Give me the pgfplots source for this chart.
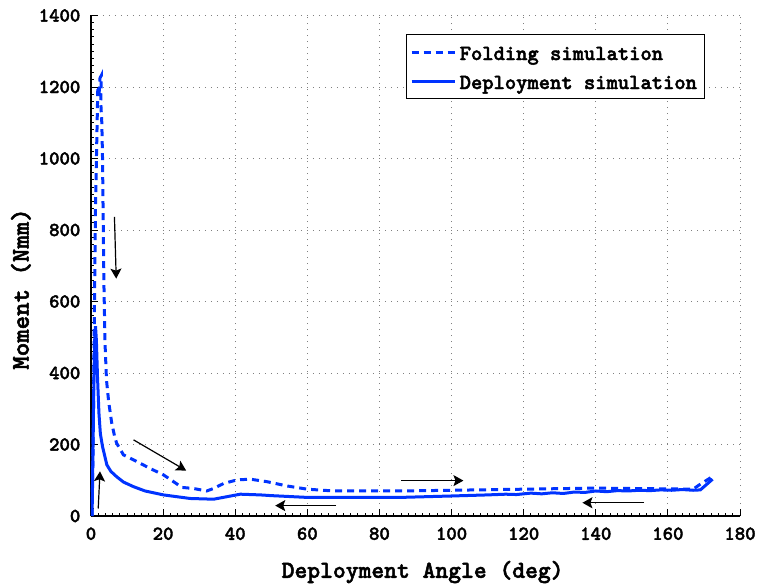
\documentclass[border=0pt]{standalone}
\usepackage{fontspec}
\newfontfamily\lmb{lmmonolt10-bold}[Extension=.otf, FakeBold=2]
\usepackage{pgfplots}
\pgfplotsset{compat=1.18}
\usetikzlibrary{arrows.meta,calc}
\definecolor{simblue}{HTML}{0033FF}
\newcommand{\cf}[1]{\lmb\fontsize{#1}{#1}\selectfont}

\begin{document}
\begin{tikzpicture}
\begin{axis}[
  name=ax,
  scale only axis, width=324.5pt, height=250.25pt,
  xmin=0, xmax=180, ymin=0, ymax=1400,
  xtick={0,20,...,180}, ytick={0,200,...,1400},
  minor tick num=9,
  axis lines=left, axis line style={-, line width=0.6pt},
  tick align=inside,
  major tick length=3.5pt, minor tick length=1.6pt,
  tick style={black, line width=0.5pt},
  grid=major, grid style={gray, line width=0.5pt, dash pattern=on 0.6pt off 2.4pt},
  /pgf/number format/assume math mode=true,
  /pgf/number format/1000 sep={},
  tick label style={font=\cf{9.9}},
  xticklabel style={yshift=-2.2pt},
  yticklabel style={xshift=-1.8pt},
  xlabel={Deployment Angle (deg)}, ylabel={Moment (Nmm)},
  xlabel style={font=\cf{12.2},
    at={(axis description cs:0.511,-0.112)}, anchor=center},
  ylabel style={font=\cf{12.8},
    at={(axis description cs:-0.108,0.4535)}, anchor=center},
  legend style={at={(0.946,0.963)}, anchor=north east, draw=black,
    line width=0.5pt, fill=white, inner xsep=2pt, inner ysep=1.5pt,
    font=\cf{10.76}, row sep=0pt, column sep=0pt,
    nodes={inner xsep=1.75pt, inner ysep=2.25pt, text height=9pt, text depth=1pt}},
  legend cell align=left,
  legend image code/.code={\draw[#1] (0pt,0pt) -- (21.5pt,0pt); \path (0pt,2pt);},
]
\addplot[simblue, line width=1.5pt, dash pattern=on 3.5pt off 2.5pt] coordinates {
  (0.3,0) (0.6,200) (0.95,577) (1.25,867) (1.9,1203) (2.3,1190) (2.5,1225)
  (2.85,1232) (2.7,1160) (3.0,1100) (3.2,1000) (3.3,900) (3.45,770)
  (3.6,640) (3.9,481) (4.3,380) (4.9,320) (5.75,260) (6.5,225) (7.1,204)
  (9.0,171) (11.8,157) (16.4,133) (20.1,115) (22.9,96) (25.2,80) (28.4,77)
  (32.1,70) (34,77) (36.8,91) (40.5,101) (44.2,103) (48.8,96) (54.4,84)
  (60,75) (67.3,70) (85.8,70) (100,72) (120,75) (139.5,78) (148.8,77)
  (160,76) (167,75) (168.7,87) (172,108)
};
\addlegendentry{Folding simulation}
\addplot[simblue, line width=1.5pt] coordinates {
  (172.4,103) (169,73) (167,72) (164,74) (161,72) (158,73) (155,71)
  (152,72) (149,70) (146,71) (143,68) (140,70) (137,66) (134,67) (131,63)
  (128,65) (125,62) (122,64) (118,60) (115,61) (110,59) (100,56) (85.8,52)
  (60,52) (50,57) (47,59) (41.4,61) (37.7,54) (34,47) (27.5,49) (20.1,59)
  (15,70) (11.8,82) (9,95) (7.1,110) (5.5,125) (4.4,143) (3.2,194)
  (2.6,230) (2.2,288) (1.8,390) (1.5,490) (1.25,531) (1.05,500) (0.8,380)
  (0.5,150) (0.3,0)
};
\addlegendentry{Deployment simulation}
\draw[-{Stealth[length=5pt,width=5.5pt,inset=1pt]}, line width=0.6pt]
  (axis cs:6.5,837) -- (axis cs:7.0,664);
\draw[-{Stealth[length=5pt,width=5.5pt,inset=1pt]}, line width=0.6pt]
  (axis cs:11.8,213) -- (axis cs:26.4,127);
\draw[-{Stealth[length=5pt,width=5.5pt,inset=1pt]}, line width=0.6pt]
  (axis cs:86,99) -- (axis cs:103.3,99);
\draw[-{Stealth[length=5pt,width=5.5pt,inset=1pt]}, line width=0.6pt]
  (axis cs:153.4,37) -- (axis cs:136.3,37);
\draw[-{Stealth[length=5pt,width=5.5pt,inset=1pt]}, line width=0.6pt]
  (axis cs:68,29) -- (axis cs:51.1,29);
\draw[-{Stealth[length=5pt,width=5.5pt,inset=1pt]}, line width=0.6pt]
  (axis cs:2.0,21) -- (axis cs:2.5,125);
\end{axis}
\pgfresetboundingbox
\path[use as bounding box] ($(ax.south west)+(-45.5pt,-34pt)$) rectangle ($(ax.north east)+(10pt,7.75pt)$);
\end{tikzpicture}
\end{document}
